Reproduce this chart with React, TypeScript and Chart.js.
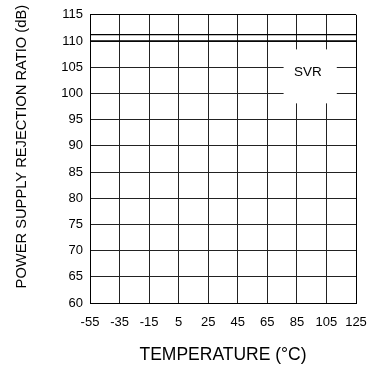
import React, { useEffect, useRef } from "react";
import { Chart, registerables } from "chart.js";

Chart.register(...registerables);

// Data
const temperatures = [-55, -35, -15, 5, 25, 45, 65, 85, 105, 125];
const svrUpper = [111.2, 111.2, 111.2, 111.2, 111.2, 111.2, 111.2, 111.2, 111.2, 111.2];
const svrLower = [110.0, 110.0, 110.0, 110.0, 110.0, 110.0, 110.0, 110.0, 110.0, 110.0];
const yTickValues = [60, 65, 70, 75, 80, 85, 90, 95, 100, 105, 110, 115];

const xTitle = "TEMPERATURE (°C)";
const yTitle = "POWER SUPPLY REJECTION RATIO (dB)";
const labelText = "SVR";
// label box and label anchor in data units
const labelBoxX = [76, 112];
const labelBoxY = [98.1, 108.4];
const labelAnchor = [92.5, 104];

const FONT = '"Liberation Sans", Arial, Helvetica, sans-serif';

const svrLabelPlugin = {
  id: "svrLabel",
  beforeDatasetsDraw(chart: any) {
    const { ctx } = chart;
    const x = chart.scales.x;
    const y = chart.scales.y;
    const l = x.getPixelForValue(labelBoxX[0]);
    const r = x.getPixelForValue(labelBoxX[1]);
    const t = y.getPixelForValue(labelBoxY[1]);
    const b = y.getPixelForValue(labelBoxY[0]);
    ctx.save();
    ctx.fillStyle = "#ffffff";
    ctx.fillRect(l, t, r - l, b - t);
    ctx.fillStyle = "#000000";
    ctx.font = `13.5px ${FONT}`;
    ctx.textAlign = "center";
    ctx.textBaseline = "middle";
    ctx.fillText(labelText, x.getPixelForValue(labelAnchor[0]), y.getPixelForValue(labelAnchor[1]));
    ctx.restore();
  },
};

export default function App() {
  const canvasRef = useRef<HTMLCanvasElement | null>(null);

  useEffect(() => {
    if (!canvasRef.current) return;
    const xMin = temperatures[0];
    const xMax = temperatures[temperatures.length - 1];
    const yMin = yTickValues[0];
    const yMax = yTickValues[yTickValues.length - 1];

    const chart = new Chart(canvasRef.current, {
      type: "line",
      data: {
        datasets: [
          {
            data: temperatures.map((t, i) => ({ x: t, y: svrUpper[i] })),
            borderColor: "#000",
            borderWidth: 1.3,
            pointRadius: 0,
            fill: false,
          },
          {
            data: temperatures.map((t, i) => ({ x: t, y: svrLower[i] })),
            borderColor: "#000",
            borderWidth: 1.3,
            pointRadius: 0,
            fill: false,
          },
        ],
      },
      options: {
        animation: false,
        responsive: true,
        maintainAspectRatio: false,
        devicePixelRatio: 1,
        layout: { padding: { top: 14, right: 25, left: 0, bottom: 0 } },
        plugins: {
          legend: { display: false },
          tooltip: { enabled: false },
        },
        scales: {
          x: {
            type: "linear",
            min: xMin,
            max: xMax,
            afterBuildTicks: (s: any) => {
              s.ticks = temperatures.map((v) => ({ value: v }));
            },
            afterFit: (s: any) => {
              s.height = 64;
            },
            grid: {
              color: (c: any) => (c.tick && (c.tick.value === xMin || c.tick.value === xMax) ? "#000" : "#222"),
              lineWidth: 1,
              drawTicks: false,
            },
            border: { color: "#000", width: 1 },
            ticks: {
              color: "#000",
              font: { family: FONT, size: 13 },
              padding: 12,
              maxRotation: 0,
              autoSkip: false,
            },
            title: {
              display: true,
              text: xTitle,
              color: "#000",
              font: { family: FONT, size: 17.5 },
              padding: { top: 0, bottom: 1.5 },
            },
          },
          y: {
            type: "linear",
            min: yMin,
            max: yMax,
            afterBuildTicks: (s: any) => {
              s.ticks = yTickValues.map((v) => ({ value: v }));
            },
            afterFit: (s: any) => {
              s.width = 90;
            },
            grid: {
              color: (c: any) => (c.tick && (c.tick.value === yMin || c.tick.value === yMax) ? "#000" : "#222"),
              lineWidth: 1,
              drawTicks: false,
            },
            border: { color: "#000", width: 1 },
            ticks: {
              color: "#000",
              font: { family: FONT, size: 13 },
              padding: 7,
              autoSkip: false,
            },
            title: {
              display: true,
              text: "      " + yTitle,
              color: "#000",
              font: { family: FONT, size: 14.7 },
              padding: { top: 13, bottom: 0 },
            },
          },
        },
      },
      plugins: [svrLabelPlugin],
    } as any);

    return () => chart.destroy();
  }, []);

  return (
    <div style={{ position: "absolute", left: 0, top: 0, width: 381, height: 367, background: "#fff" }}>
      <canvas ref={canvasRef} />
    </div>
  );
}
